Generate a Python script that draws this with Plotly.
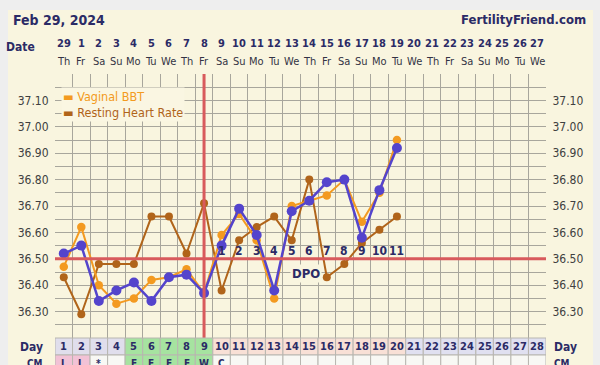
import plotly.graph_objects as go

FONT = "DejaVu Sans Condensed, DejaVu Sans, sans-serif"
NAVY = "#2b2b66"

days = list(range(1, 29))
date_labels = ["29"] + [str(i) for i in range(1, 28)]
weekdays = ["Th", "Fr", "Sa", "Su", "Mo", "Tu", "We"] * 4

bbt_days = list(range(1, 21))
bbt = [36.52, 36.55, 36.34, 36.38, 36.41, 36.34, 36.43, 36.44, 36.37, 36.55,
       36.69, 36.59, 36.38, 36.68, 36.72, 36.79, 36.80, 36.58, 36.76, 36.92]
vaginal = [36.47, 36.62, 36.40, 36.33, 36.35, 36.42, 36.43, 36.46, 36.37, 36.59,
           36.67, 36.57, 36.35, 36.70, 36.72, 36.74, 36.80, 36.64, 36.75, 36.95]
rhr = [36.43, 36.29, 36.48, 36.48, 36.48, 36.66, 36.66, 36.52, 36.71, 36.38,
       36.57, 36.62, 36.66, 36.57, 36.80, 36.43, 36.48, 36.56, 36.61, 36.66]

dpo_days = list(range(10, 21))
dpo_labels = [str(i) for i in range(1, 12)]

coverline = 36.50
ovulation_day = 9

ytick_vals = [36.3, 36.4, 36.5, 36.6, 36.7, 36.8, 36.9, 37.0, 37.1]
ytick_text = ["36.30", "36.40", "36.50", "36.60", "36.70", "36.80", "36.90", "37.00", "37.10"]

day_colors = (["#e0deec"] * 4 + ["#a6e3a0"] * 5 + ["#f8e0d6"] * 11 + ["#e0e0f0"] * 8)
cm_labels = ["L", "L", "*", "", "E", "E", "E", "E", "W", "C"] + [""] * 18
cm_colors = (["#f2c2d6"] * 2 + ["#f8f8f4"] * 2 + ["#a6e3a0"] * 5 + ["#f8f8f4"] * 19)

ORANGE = "#f39a20"
BROWN = "#b0641a"
PURPLE = "#5444cc"
RED = "#d85a5c"

fig = go.Figure()
fig.add_trace(go.Scatter(x=bbt_days, y=rhr, mode="lines+markers",
                         line=dict(color=BROWN, width=2), marker=dict(size=8, color=BROWN),
                         showlegend=False, hoverinfo="skip"))
fig.add_trace(go.Scatter(x=bbt_days, y=vaginal, mode="lines+markers",
                         line=dict(color=ORANGE, width=2), marker=dict(size=8.5, color=ORANGE),
                         showlegend=False, hoverinfo="skip"))
fig.add_trace(go.Scatter(x=bbt_days, y=bbt, mode="lines+markers",
                         line=dict(color=PURPLE, width=2.5), marker=dict(size=10, color=PURPLE),
                         showlegend=False, hoverinfo="skip"))
# dummy for right axis
fig.add_trace(go.Scatter(x=[None], y=[None], yaxis="y2", showlegend=False, hoverinfo="skip"))

shapes = []
# outer cream panel
shapes.append(dict(type="rect", xref="paper", yref="paper", x0=-0.0957, x1=1.0957, y0=-0.3, y1=1.242,
                   fillcolor="#f9f5df", line=dict(width=0), layer="below"))
# coverline and ovulation line
shapes.append(dict(type="line", xref="paper", yref="y", x0=0, x1=1, y0=coverline, y1=coverline,
                   line=dict(color=RED, width=3)))
shapes.append(dict(type="line", xref="x", yref="paper", x0=ovulation_day, x1=ovulation_day, y0=0, y1=1,
                   line=dict(color=RED, width=3)))
# day row and CM row
rh = 17 / 264
for i, d in enumerate(days):
    shapes.append(dict(type="rect", xref="x", yref="paper", x0=d - 0.5, x1=d + 0.5, y0=-rh, y1=0,
                       fillcolor=day_colors[i], line=dict(color="#b8b6b0", width=1)))
    shapes.append(dict(type="rect", xref="x", yref="paper", x0=d - 0.5, x1=d + 0.5, y0=-2 * rh, y1=-rh,
                       fillcolor=cm_colors[i], line=dict(color="#b8b6b0", width=1)))


def A(**kw):
    kw.setdefault("showarrow", False)
    kw.setdefault("xanchor", "center")
    kw.setdefault("yanchor", "middle")
    return kw


ann = []
for i, d in enumerate(days):
    ann.append(A(x=d, y=1.117, xref="x", yref="paper", text="<b>%s</b>" % date_labels[i],
                 font=dict(family=FONT, size=11, color=NAVY)))
    ann.append(A(x=d, y=1.049, xref="x", yref="paper", text=weekdays[i],
                 font=dict(family=FONT, size=11, color="#333344")))
    ann.append(A(x=d, y=-rh / 2, xref="x", yref="paper", text="<b>%d</b>" % d,
                 font=dict(family=FONT, size=11, color=NAVY)))
    if cm_labels[i]:
        ann.append(A(x=d, y=-1.5 * rh, xref="x", yref="paper", text="<b>%s</b>" % cm_labels[i],
                     font=dict(family=FONT, size=10, color=NAVY)))
for d, t in zip(dpo_days, dpo_labels):
    ann.append(A(x=d, y=36.528, xref="x", yref="y", text="<b>%s</b>" % t,
                 font=dict(family=FONT, size=12, color=NAVY)))
ann.append(A(x=14.8, y=36.443, xref="x", yref="y", text="<b>DPO</b>",
             bgcolor="#f9f5df", borderpad=1, font=dict(family=FONT, size=13, color=NAVY)))
# side labels
ann.append(A(x=-0.036, y=1.103, xref="paper", yref="paper", xanchor="right", text="<b>Date</b>",
             font=dict(family=FONT, size=12, color=NAVY)))
ann.append(A(x=-0.02, y=-rh / 2, xref="paper", yref="paper", xanchor="right", text="<b>Day</b>",
             font=dict(family=FONT, size=12, color=NAVY)))
ann.append(A(x=1.012, y=-rh / 2, xref="paper", yref="paper", xanchor="left", text="<b>Day</b>",
             font=dict(family=FONT, size=12, color=NAVY)))
ann.append(A(x=-0.02, y=-1.5 * rh, xref="paper", yref="paper", xanchor="right", text="<b>CM</b>",
             font=dict(family=FONT, size=10, color=NAVY)))
ann.append(A(x=1.012, y=-1.5 * rh, xref="paper", yref="paper", xanchor="left", text="<b>CM</b>",
             font=dict(family=FONT, size=10, color=NAVY)))
# title texts
ann.append(A(x=-0.09, y=1.205, xref="paper", yref="paper", xanchor="left", text="<b>Feb 29, 2024</b>",
             font=dict(family=FONT, size=14, color=NAVY)))
ann.append(A(x=1.085, y=1.205, xref="paper", yref="paper", xanchor="right", text="<b>FertilityFriend.com</b>",
             font=dict(family=FONT, size=13, color=NAVY)))
# legend
ann.append(A(x=0.012, y=0.95, xref="paper", yref="paper", xanchor="left", yanchor="top", align="left",
             text=('<span style="color:%s">▬</span> <span style="color:%s">Vaginal BBT</span><br>'
                   '<span style="color:%s">▬</span> <span style="color:%s">Resting Heart Rate</span>')
             % (ORANGE, ORANGE, BROWN, BROWN),
             bgcolor="#faf6e2", borderpad=1,
             font=dict(family=FONT, size=12.5, color=ORANGE)))

GRID = "#a8a69c"
fig.update_layout(
    width=600, height=365,
    margin=dict(l=55, r=54, t=74, b=27),
    paper_bgcolor="#eeeeee",
    plot_bgcolor="#f7f3da",
    shapes=shapes,
    annotations=ann,
    showlegend=False,
    xaxis=dict(range=[0.5, 28.5], tickmode="linear", tick0=0.5, dtick=1, showticklabels=False,
               showgrid=True, gridcolor=GRID, gridwidth=1, zeroline=False, ticks="", fixedrange=True,
               automargin=False),
    yaxis=dict(range=[36.2, 37.2], tickvals=ytick_vals, ticktext=ytick_text, showgrid=True,
               gridcolor=GRID, gridwidth=1, zeroline=False, ticks="outside", ticklen=3,
               tickcolor="rgba(0,0,0,0)", automargin=False,
               minor=dict(dtick=0.05, tick0=36.2, showgrid=True, gridcolor=GRID, gridwidth=1),
               tickfont=dict(family=FONT, size=12, color="#404040")),
    yaxis2=dict(range=[36.2, 37.2], overlaying="y", side="right", tickvals=ytick_vals, ticktext=ytick_text,
                showgrid=False, zeroline=False, ticks="outside", ticklen=3, tickcolor="rgba(0,0,0,0)",
                automargin=False, tickfont=dict(family=FONT, size=12, color="#404040")),
)

fig.write_html("out.html", config={"displayModeBar": False},
               post_script="document.body.style.margin='0';document.body.style.background='#eeeeee';")
